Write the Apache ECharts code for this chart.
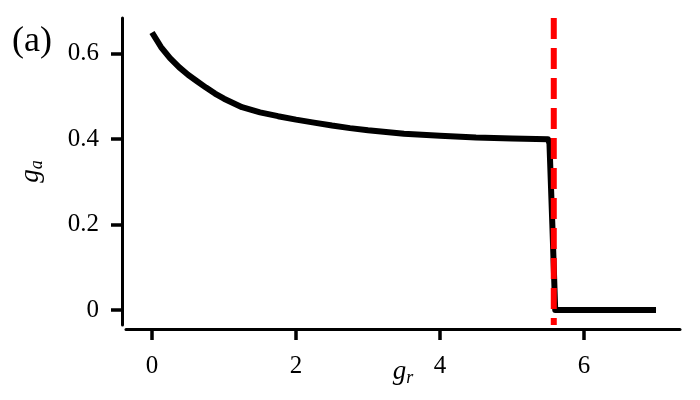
<!DOCTYPE html>
<html>
<head>
<meta charset="utf-8">
<script src="https://cdn.jsdelivr.net/npm/echarts@6/dist/echarts.min.js"></script>
<style>
    html, body { margin: 0; padding: 0; background: #fff; }
    #main { width: 700px; height: 400px; }
</style>
</head>
<body>
<div id="main"></div>
<script>
    // data
    var grVals = [0, 0.125, 0.25, 0.375, 0.5, 0.625, 0.75, 0.875, 1.0, 1.25, 1.5, 1.75, 2.0, 2.25, 2.5, 2.75, 3.0, 3.5, 4.0, 4.5, 5.0, 5.5, 5.52, 5.56, 5.6, 7.0];
    var gaVals = [0.650, 0.616, 0.590, 0.569, 0.551, 0.536, 0.521, 0.507, 0.495, 0.475, 0.463, 0.454, 0.446, 0.439, 0.432, 0.426, 0.421, 0.413, 0.408, 0.404, 0.402, 0.400, 0.39, 0.2, 0.0, 0.0];
    var criticalGr = 5.58;
    var xTicks = [0, 2, 4, 6];
    var yTicks = [0, 0.2, 0.4, 0.6];

    var serif = '"Liberation Serif", "DejaVu Serif", serif';

    var curve = grVals.map(function(v, i) { return [v, gaVals[i]]; });
    var redLine = [[criticalGr, 0.684], [criticalGr, -0.035]];

    var chart = echarts.init(document.getElementById('main'));

    //name styles
    var nameRich = {
        g: { fontFamily: serif, fontStyle: 'italic', fontSize: 27, color: '#000' },
        s: { fontFamily: serif, fontStyle: 'italic', fontSize: 18, color: '#000', padding: [12, 0, 0, 0] }
    };

    //options
    var option = {
        animation: false,
        backgroundColor: '#fff',
        title: {
            text: '(a)',
            left: 7,
            top: 19,
            textStyle: { fontFamily: serif, fontSize: 36, fontWeight: 'normal', color: '#000' }
        },
        grid: [
            { left: 122, right: 20, top: 18, bottom: 71, outerBoundsMode: 'none' },   // data
            { left: 126, right: 20, top: 18, bottom: 71, outerBoundsMode: 'none' },   // x spine
            { left: 122, right: 20, top: 18, bottom: 75, outerBoundsMode: 'none' }    // y spine
        ],
        xAxis: [{
            gridIndex: 0, type: 'value', min: -0.4167, max: 7.333,
            axisLine: { show: false }, axisTick: { show: false }, axisLabel: { show: false }, splitLine: { show: false }
        }, {
            gridIndex: 1, type: 'value', min: -0.3611, max: 7.333,
            name: '{g|g}{s|r}',
            nameLocation: 'middle',
            nameGap: 28,
            nameMoveOverlap: false,
            nameTextStyle: { rich: nameRich },
            axisLine: { onZero: false, lineStyle: { color: '#000', width: 3 } },
            axisTick: { show: true, length: 11, lineStyle: { color: '#000', width: 3.5 }, customValues: xTicks },
            axisLabel: { customValues: xTicks, margin: 25, fontFamily: serif, fontSize: 25, color: '#000' },
            splitLine: { show: false }
        }, {
            gridIndex: 2, type: 'value', min: -0.4167, max: 7.333, show: false
        }],
        yAxis: [{
            gridIndex: 0, type: 'value', min: -0.0445, max: 0.684,
            axisLine: { show: false }, axisTick: { show: false }, axisLabel: { show: false }, splitLine: { show: false }
        }, {
            gridIndex: 1, type: 'value', min: -0.0445, max: 0.684, show: false
        }, {
            gridIndex: 2, type: 'value', min: -0.0352, max: 0.684,
            name: '{g|g}{s|a}',
            nameLocation: 'middle',
            nameGap: 76,
            nameMoveOverlap: false,
            nameTextStyle: { rich: nameRich },
            axisLine: { show: true, onZero: false, lineStyle: { color: '#000', width: 3 } },
            axisTick: { show: true, length: 11, lineStyle: { color: '#000', width: 3.5 }, customValues: yTicks },
            axisLabel: {
                customValues: yTicks, margin: 23, fontFamily: serif, fontSize: 25, color: '#000',
                formatter: function(v) { return String(v); }
            },
            splitLine: { show: false }
        }],
        series: [{
            type: 'line',
            xAxisIndex: 0, yAxisIndex: 0,
            data: curve,
            showSymbol: false,
            lineStyle: { color: '#000', width: 6, join: 'round' }
        }, {
            type: 'line',
            xAxisIndex: 0, yAxisIndex: 0,
            data: redLine,
            showSymbol: false,
            lineStyle: { color: '#ff0000', width: 6, type: [21, 9] }
        }]
    };

    chart.setOption(option);
</script>
</body>
</html>
